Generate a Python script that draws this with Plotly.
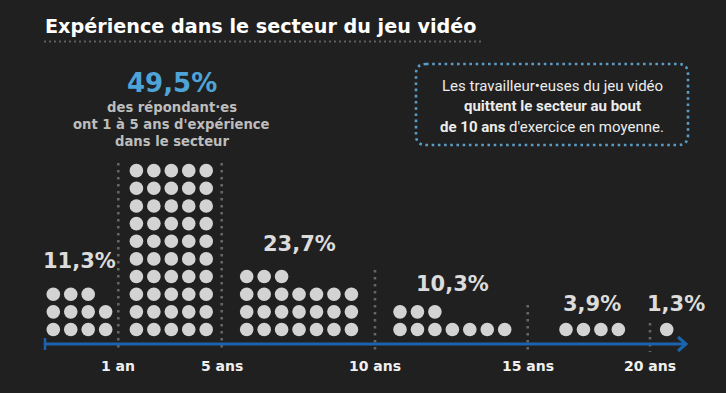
import plotly.graph_objects as go

# ---------------- data ----------------
categories = ["< 1 an", "1 à 5 ans", "5 à 10 ans", "10 à 15 ans", "15 à 20 ans", "> 20 ans"]
percentages = [11.3, 49.5, 23.7, 10.3, 3.9, 1.3]
tick_labels = ["1 an", "5 ans", "10 ans", "15 ans", "20 ans"]

title_text = "Expérience dans le secteur du jeu vidéo"
highlight_value = "49,5%"
highlight_lines = ["des répondant·es", "ont 1 à 5 ans d'expérience", "dans le secteur"]
box_lines = [
    "Les travailleur•euses du jeu vidéo",
    "<b>quittent le secteur au bout</b>",
    "<b>de 10 ans</b> d'exercice en moyenne.",
]

# ---------------- layout (pixel-space positions) ----------------
W, H = 726, 393
BG = "#202020"
DOT = "#d3d3d3"
BLUE = "#1c63ad"
LIGHTBLUE = "#4ea4d6"
BOXBLUE = "#5b9cc4"
GRID = "#666666"

group_cols = [4, 5, 7, 7, 4, 1]
group_x0 = [53.3, 136.4, 246.7, 400.0, 566.0, 666.7]
dx, dy = 17.45, 17.65
base_y = 329.5
label_pos = [(79, 261), (0, 0), (299, 244), (452.5, 284), (591.5, 304), (675.5, 304)]
tick_x = [118.3, 221.7, 375.0, 527.7, 650.0]
tick_top = [163, 163, 270, 305, 323]
axis_y = 344

xs, ys = [], []
for p, ncol, x0 in zip(percentages, group_cols, group_x0):
    n = int(round(p))
    for i in range(n):
        r, c = divmod(i, ncol)
        xs.append(x0 + c * dx)
        ys.append(base_y - r * dy)

fig = go.Figure()
fig.add_trace(go.Scatter(
    x=xs, y=ys, mode="markers",
    marker=dict(size=13.6, color=DOT, line=dict(width=0)),
    hoverinfo="skip", showlegend=False,
))

shapes = []
# vertical dotted separators
for tx, tt in zip(tick_x, tick_top):
    shapes.append(dict(type="line", xref="x", yref="y", x0=tx, x1=tx, y0=tt, y1=352,
                       line=dict(color=GRID, width=2.6, dash="2.6px,4.4px"), layer="below"))
# axis line
shapes.append(dict(type="line", xref="x", yref="y", x0=45, x1=685, y0=axis_y, y1=axis_y,
                   line=dict(color=BLUE, width=3)))
shapes.append(dict(type="line", xref="x", yref="y", x0=45, x1=45, y0=338, y1=350,
                   line=dict(color=BLUE, width=2.5)))
shapes.append(dict(type="path", xref="x", yref="y",
                   path=f"M 678,{axis_y-7} L 686,{axis_y} L 678,{axis_y+7}",
                   line=dict(color=BLUE, width=3)))
# title underline
shapes.append(dict(type="line", xref="x", yref="y", x0=44, x1=483, y0=41.5, y1=41.5,
                   line=dict(color="#5c5c5c", width=2, dash="2px,3px")))
# rounded dotted box
bx0, bx1, by0, by1, rr = 416, 688, 64, 145, 10
box_path = (f"M {bx0+rr},{by0} L {bx1-rr},{by0} Q {bx1},{by0} {bx1},{by0+rr} "
            f"L {bx1},{by1-rr} Q {bx1},{by1} {bx1-rr},{by1} L {bx0+rr},{by1} "
            f"Q {bx0},{by1} {bx0},{by1-rr} L {bx0},{by0+rr} Q {bx0},{by0} {bx0+rr},{by0} Z")
shapes.append(dict(type="path", xref="x", yref="y", path=box_path,
                   line=dict(color=BOXBLUE, width=2.6, dash="2.6px,3.6px")))

ann = []
HEAD = "DejaVu Sans"
# title
ann.append(dict(x=42.5, y=26.5, text=title_text, xanchor="left", yanchor="middle", showarrow=False,
                font=dict(family=HEAD, size=19.2, color="#ffffff", weight=700)))
# highlight
ann.append(dict(x=171.5, y=83, text=highlight_value, xanchor="center", yanchor="middle", showarrow=False,
                font=dict(family=HEAD, size=26, color=LIGHTBLUE, weight=700)))
for i, line in enumerate(highlight_lines):
    ann.append(dict(x=171.5, y=107 + i * 17, text=line, xanchor="center", yanchor="middle", showarrow=False,
                    font=dict(family=HEAD, size=13.2, color="#bdbdbd", weight=700)))
# box text
for i, line in enumerate(box_lines):
    ann.append(dict(x=552, y=85.5 + i * 20.7, text=line, xanchor="center", yanchor="middle", showarrow=False,
                    font=dict(family="Roboto", size=15, color="#ececec")))
# percentage labels
for k, (p, (lx, ly)) in enumerate(zip(percentages, label_pos)):
    if k == 1:
        continue
    txt = f"{p:.1f}".replace(".", ",") + "%"
    ann.append(dict(x=lx, y=ly, text=txt, xanchor="center", yanchor="middle", showarrow=False,
                    font=dict(family=HEAD, size=21, color="#dcdcdc", weight=700)))
# tick labels
for tx, tl in zip(tick_x, tick_labels):
    ann.append(dict(x=tx, y=366, text=tl, xanchor="center", yanchor="middle", showarrow=False,
                    font=dict(family=HEAD, size=14, color="#f0f0f0", weight=700)))

fig.update_layout(
    width=W, height=H,
    margin=dict(l=0, r=0, t=0, b=0),
    paper_bgcolor=BG, plot_bgcolor=BG,
    xaxis=dict(range=[0, W], visible=False, fixedrange=True),
    yaxis=dict(range=[H, 0], visible=False, fixedrange=True),
    shapes=shapes, annotations=ann,
    showlegend=False,
)

fig.write_html(
    "out.html",
    config={"displayModeBar": False},
    post_script="document.body.style.margin='0';document.body.style.padding='0';"
                "document.body.style.background='#202020';document.body.style.overflow='hidden';",
)
